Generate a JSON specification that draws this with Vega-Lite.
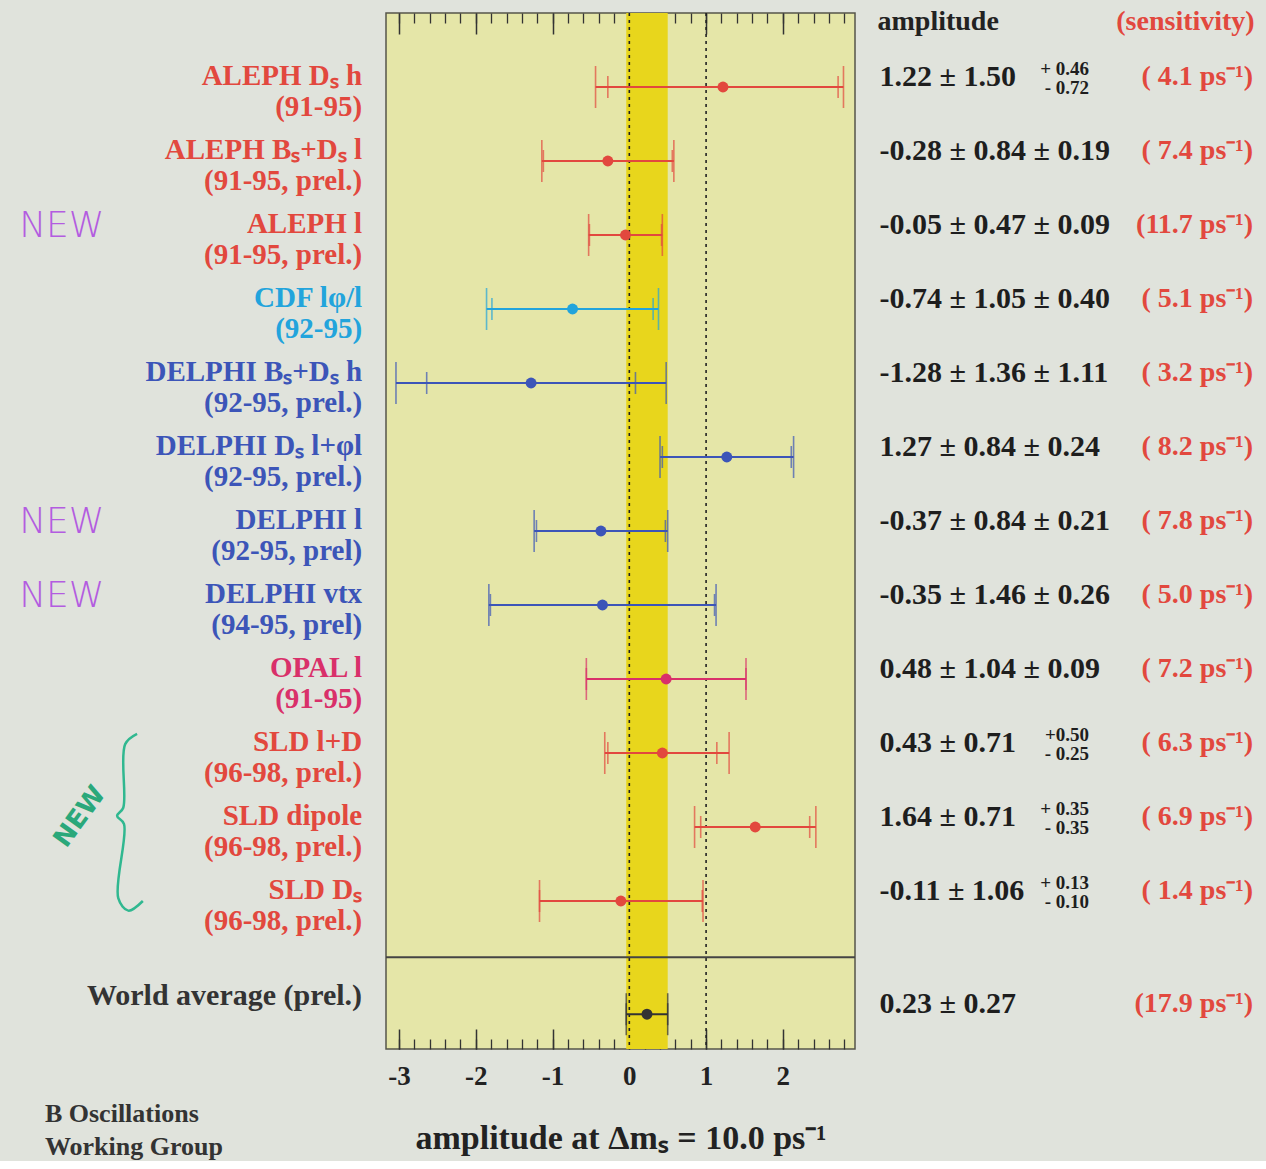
{
  "$schema": "https://vega.github.io/schema/vega-lite/v6.json",
  "background": "#e0e3dc",
  "padding": {"left": 0, "top": 7, "right": 0, "bottom": 0},
  "spacing": 0,
  "config": {"view": {"stroke": null}, "concat": {"spacing": 0}},
  "datasets": {
    "meas": [
      {"row": 1, "exp": "ALEPH", "label": "ALEPH Dₛ h\n(91-95)", "A": 1.22, "statLo": -0.28, "statHi": 2.72, "totLo": -0.44, "totHi": 2.79, "amp": "1.22 ± 1.50", "up": "+ 0.46", "dn": "- 0.72", "sens": "( 4.1 ps⁻¹)"},
      {"row": 2, "exp": "ALEPH", "label": "ALEPH Bₛ+Dₛ l\n(91-95, prel.)", "A": -0.28, "statLo": -1.12, "statHi": 0.56, "totLo": -1.14, "totHi": 0.58, "amp": "-0.28 ± 0.84 ± 0.19", "up": "", "dn": "", "sens": "( 7.4 ps⁻¹)"},
      {"row": 3, "exp": "ALEPH", "label": "ALEPH l\n(91-95, prel.)", "A": -0.05, "statLo": -0.52, "statHi": 0.42, "totLo": -0.53, "totHi": 0.43, "amp": "-0.05 ± 0.47 ± 0.09", "up": "", "dn": "", "sens": "(11.7 ps⁻¹)"},
      {"row": 4, "exp": "CDF", "label": "CDF lφ/l\n(92-95)", "A": -0.74, "statLo": -1.79, "statHi": 0.31, "totLo": -1.86, "totHi": 0.38, "amp": "-0.74 ± 1.05 ± 0.40", "up": "", "dn": "", "sens": "( 5.1 ps⁻¹)"},
      {"row": 5, "exp": "DELPHI", "label": "DELPHI Bₛ+Dₛ h\n(92-95, prel.)", "A": -1.28, "statLo": -2.64, "statHi": 0.08, "totLo": -3.04, "totHi": 0.48, "amp": "-1.28 ± 1.36 ± 1.11", "up": "", "dn": "", "sens": "( 3.2 ps⁻¹)"},
      {"row": 6, "exp": "DELPHI", "label": "DELPHI Dₛ l+φl\n(92-95, prel.)", "A": 1.27, "statLo": 0.43, "statHi": 2.11, "totLo": 0.40, "totHi": 2.14, "amp": "1.27 ± 0.84 ± 0.24", "up": "", "dn": "", "sens": "( 8.2 ps⁻¹)"},
      {"row": 7, "exp": "DELPHI", "label": "DELPHI l\n(92-95, prel)", "A": -0.37, "statLo": -1.21, "statHi": 0.47, "totLo": -1.24, "totHi": 0.50, "amp": "-0.37 ± 0.84 ± 0.21", "up": "", "dn": "", "sens": "( 7.8 ps⁻¹)"},
      {"row": 8, "exp": "DELPHI", "label": "DELPHI vtx\n(94-95, prel)", "A": -0.35, "statLo": -1.81, "statHi": 1.11, "totLo": -1.83, "totHi": 1.13, "amp": "-0.35 ± 1.46 ± 0.26", "up": "", "dn": "", "sens": "( 5.0 ps⁻¹)"},
      {"row": 9, "exp": "OPAL", "label": "OPAL l\n(91-95)", "A": 0.48, "statLo": -0.56, "statHi": 1.52, "totLo": -0.56, "totHi": 1.52, "amp": "0.48 ± 1.04 ± 0.09", "up": "", "dn": "", "sens": "( 7.2 ps⁻¹)"},
      {"row": 10, "exp": "SLD", "label": "SLD l+D\n(96-98, prel.)", "A": 0.43, "statLo": -0.28, "statHi": 1.14, "totLo": -0.32, "totHi": 1.30, "amp": "0.43 ± 0.71", "up": "+0.50", "dn": "- 0.25", "sens": "( 6.3 ps⁻¹)"},
      {"row": 11, "exp": "SLD", "label": "SLD dipole\n(96-98, prel.)", "A": 1.64, "statLo": 0.93, "statHi": 2.35, "totLo": 0.85, "totHi": 2.43, "amp": "1.64 ± 0.71", "up": "+ 0.35", "dn": "- 0.35", "sens": "( 6.9 ps⁻¹)"},
      {"row": 12, "exp": "SLD", "label": "SLD Dₛ\n(96-98, prel.)", "A": -0.11, "statLo": -1.17, "statHi": 0.95, "totLo": -1.17, "totHi": 0.96, "amp": "-0.11 ± 1.06", "up": "+ 0.13", "dn": "- 0.10", "sens": "( 1.4 ps⁻¹)"},
      {"row": 13.53, "exp": "World", "label": "World average (prel.)", "A": 0.23, "statLo": -0.04, "statHi": 0.50, "totLo": -0.04, "totHi": 0.50, "amp": "0.23 ± 0.27", "up": "", "dn": "", "sens": "(17.9 ps⁻¹)"}
    ]
  },
  "hconcat": [
    {
      "width": 384,
      "height": 1036,
      "layer": [
        {
          "data": {"name": "meas"},
          "transform": [{"filter": "datum.exp != 'World'"}],
          "mark": {"type": "text", "align": "right", "baseline": "middle", "lineBreak": "\n", "lineHeight": 31, "font": "Liberation Serif", "fontWeight": "bold", "fontSize": 29, "dy": -11},
          "encoding": {
            "x": {"datum": 0.943, "type": "quantitative", "scale": {"domain": [0, 1], "nice": false, "zero": false}, "axis": null},
            "y": {"field": "row", "type": "quantitative", "scale": {"domain": [0, 14], "reverse": true, "nice": false, "zero": false}, "axis": null},
            "text": {"field": "label"},
            "color": {"field": "exp", "type": "nominal", "scale": {"domain": ["ALEPH", "CDF", "DELPHI", "OPAL", "SLD", "World"], "range": ["#e2483e", "#22a4dc", "#3c55b8", "#d9306a", "#e2483e", "#333333"]}, "legend": null}
          }
        },
        {
          "data": {"name": "meas"},
          "transform": [{"filter": "datum.exp == 'World'"}],
          "mark": {"type": "text", "align": "right", "baseline": "middle", "font": "Liberation Serif", "fontWeight": "bold", "fontSize": 30, "dy": -18, "color": "#333333"},
          "encoding": {
            "x": {"datum": 0.943, "type": "quantitative", "scale": {"domain": [0, 1], "nice": false, "zero": false}, "axis": null},
            "y": {"field": "row", "type": "quantitative", "scale": {"domain": [0, 14], "reverse": true, "nice": false, "zero": false}, "axis": null},
            "text": {"field": "label"}
          }
        },
        {
          "data": {"values": [{"row": 3, "note": "NEW"}, {"row": 7, "note": "NEW"}, {"row": 8, "note": "NEW"}]},
          "mark": {"type": "text", "align": "center", "baseline": "middle", "font": "DejaVu Sans", "fontWeight": 200, "fontSize": 36, "dy": -9, "color": "#b35ce0"},
          "encoding": {
            "x": {"datum": 0.161, "type": "quantitative", "scale": {"domain": [0, 1], "nice": false, "zero": false}, "axis": null},
            "y": {"field": "row", "type": "quantitative", "scale": {"domain": [0, 14], "reverse": true, "nice": false, "zero": false}, "axis": null},
            "text": {"field": "note"}
          }
        },
        {
          "data": {"values": [{"row": 10.86, "note": "NEW"}]},
          "mark": {"type": "text", "align": "center", "baseline": "middle", "font": "DejaVu Sans", "fontWeight": "bold", "fontSize": 26, "angle": 306, "color": "#2aa87a"},
          "encoding": {
            "x": {"datum": 0.208, "type": "quantitative", "scale": {"domain": [0, 1], "nice": false, "zero": false}, "axis": null},
            "y": {"field": "row", "type": "quantitative", "scale": {"domain": [0, 14], "reverse": true, "nice": false, "zero": false}, "axis": null},
            "text": {"field": "note"}
          }
        },
        {
          "data": {"values": [
            {"i": 1, "fx": 0.357, "row": 9.74},
            {"i": 2, "fx": 0.326, "row": 9.88},
            {"i": 3, "fx": 0.321, "row": 10.74},
            {"i": 4, "fx": 0.305, "row": 10.85},
            {"i": 5, "fx": 0.323, "row": 10.96},
            {"i": 6, "fx": 0.308, "row": 11.96},
            {"i": 7, "fx": 0.334, "row": 12.13},
            {"i": 8, "fx": 0.372, "row": 12.0}
          ]},
          "mark": {"type": "line", "interpolate": "catmull-rom", "color": "#30b890", "strokeWidth": 2.5},
          "encoding": {
            "x": {"field": "fx", "type": "quantitative", "scale": {"domain": [0, 1], "nice": false, "zero": false}, "axis": null},
            "y": {"field": "row", "type": "quantitative", "scale": {"domain": [0, 14], "reverse": true, "nice": false, "zero": false}, "axis": null},
            "order": {"field": "i"}
          }
        },
        {
          "data": {"values": [{"row": 14.88, "note": "B Oscillations\nWorking Group"}]},
          "mark": {"type": "text", "align": "left", "baseline": "middle", "lineBreak": "\n", "lineHeight": 33, "font": "Liberation Serif", "fontWeight": "bold", "fontSize": 26, "color": "#333333"},
          "encoding": {
            "x": {"datum": 0.117, "type": "quantitative", "scale": {"domain": [0, 1], "nice": false, "zero": false}, "axis": null},
            "y": {"field": "row", "type": "quantitative", "scale": {"domain": [0, 14], "reverse": true, "nice": false, "zero": false}, "axis": null},
            "text": {"field": "note"}
          }
        }
      ]
    },
    {
      "width": 469,
      "height": 1036,
      "view": {"fill": "#e5e6a8", "stroke": "#55554a", "strokeWidth": 1.5},
      "resolve": {"scale": {"x": "independent"}},
      "layer": [
        {
          "data": {"values": [{}]},
          "mark": {"type": "rect", "color": "#e8d61c"},
          "encoding": {
            "x": {"datum": -0.04, "type": "quantitative", "scale": {"domain": [-3.17, 2.94], "nice": false, "zero": false},
              "axis": {"orient": "bottom", "values": [-3, -2, -1, 0, 1, 2], "labelExpr": "'' + datum.value", "ticks": false, "domain": false, "grid": false, "labelFlush": false, "labelFont": "Liberation Serif", "labelFontWeight": "bold", "labelFontSize": 27, "labelColor": "#222222", "labelPadding": 14, "title": "amplitude at Δmₛ = 10.0 ps⁻¹", "titleFont": "Liberation Serif", "titleFontWeight": "bold", "titleFontSize": 34, "titleColor": "#222222", "titlePadding": 32}},
            "x2": {"datum": 0.50}
          }
        },
        {
          "data": {"values": [{"v": 0}, {"v": 1}]},
          "mark": {"type": "rule", "color": "#222222", "strokeWidth": 1.6, "strokeDash": [3, 4]},
          "encoding": {
            "x": {"field": "v", "type": "quantitative", "scale": {"domain": [-3.17, 2.94], "nice": false, "zero": false},
              "axis": {"orient": "bottom", "values": [-3, -2, -1, 0, 1, 2], "tickSize": -20, "tickWidth": 1.5, "tickColor": "#333333", "labels": false, "domain": false, "grid": false, "title": null}}
          }
        },
        {
          "data": {"values": [{}]},
          "mark": {"type": "rule", "color": "#444444", "strokeWidth": 2},
          "encoding": {
            "y": {"datum": 12.76, "type": "quantitative", "scale": {"domain": [0, 14], "reverse": true, "nice": false, "zero": false}, "axis": null}
          }
        },
        {
          "data": {"name": "meas"},
          "mark": {"type": "rule", "strokeWidth": 2},
          "encoding": {
            "x": {"field": "totLo", "type": "quantitative", "scale": {"domain": [-3.17, 2.94], "nice": false, "zero": false},
              "axis": {"orient": "bottom", "values": [-3, -2.8, -2.6, -2.4, -2.2, -2, -1.8, -1.6, -1.4, -1.2, -1, -0.8, -0.6, -0.4, -0.2, 0, 0.2, 0.4, 0.6, 0.8, 1, 1.2, 1.4, 1.6, 1.8, 2, 2.2, 2.4, 2.6, 2.8], "tickSize": -10, "tickWidth": 1.3, "tickColor": "#333333", "labels": false, "domain": false, "grid": false, "title": null}},
            "x2": {"field": "totHi"},
            "y": {"field": "row", "type": "quantitative", "scale": {"domain": [0, 14], "reverse": true, "nice": false, "zero": false}, "axis": null},
            "color": {"field": "exp", "type": "nominal", "scale": {"domain": ["ALEPH", "CDF", "DELPHI", "OPAL", "SLD", "World"], "range": ["#e2483e", "#22a4dc", "#3c55b8", "#d9306a", "#e2483e", "#2a2a3a"]}, "legend": null}
          }
        },
        {
          "data": {"name": "meas"},
          "mark": {"type": "tick", "orient": "vertical", "size": 42, "thickness": 1.6},
          "encoding": {
            "x": {"field": "totLo", "type": "quantitative", "scale": {"domain": [-3.17, 2.94], "nice": false, "zero": false},
              "axis": {"orient": "top", "values": [-3, -2, -1, 0, 1, 2], "tickSize": -21, "tickWidth": 1.5, "tickColor": "#333333", "labels": false, "domain": false, "grid": false, "title": null}},
            "y": {"field": "row", "type": "quantitative", "scale": {"domain": [0, 14], "reverse": true, "nice": false, "zero": false}, "axis": null},
            "color": {"field": "exp", "type": "nominal", "scale": {"domain": ["ALEPH", "CDF", "DELPHI", "OPAL", "SLD", "World"], "range": ["#e2483e", "#22a4dc", "#3c55b8", "#d9306a", "#e2483e", "#2a2a3a"]}, "legend": null}
          }
        },
        {
          "data": {"name": "meas"},
          "mark": {"type": "tick", "orient": "vertical", "size": 42, "thickness": 1.6},
          "encoding": {
            "x": {"field": "totHi", "type": "quantitative", "scale": {"domain": [-3.17, 2.94], "nice": false, "zero": false},
              "axis": {"orient": "top", "values": [-3, -2.8, -2.6, -2.4, -2.2, -2, -1.8, -1.6, -1.4, -1.2, -1, -0.8, -0.6, -0.4, -0.2, 0, 0.2, 0.4, 0.6, 0.8, 1, 1.2, 1.4, 1.6, 1.8, 2, 2.2, 2.4, 2.6, 2.8], "tickSize": -10, "tickWidth": 1.3, "tickColor": "#333333", "labels": false, "domain": false, "grid": false, "title": null}},
            "y": {"field": "row", "type": "quantitative", "scale": {"domain": [0, 14], "reverse": true, "nice": false, "zero": false}, "axis": null},
            "color": {"field": "exp", "type": "nominal", "scale": {"domain": ["ALEPH", "CDF", "DELPHI", "OPAL", "SLD", "World"], "range": ["#e2483e", "#22a4dc", "#3c55b8", "#d9306a", "#e2483e", "#2a2a3a"]}, "legend": null}
          }
        },
        {
          "data": {"name": "meas"},
          "mark": {"type": "tick", "orient": "vertical", "size": 22, "thickness": 1.6},
          "encoding": {
            "x": {"field": "statLo", "type": "quantitative", "scale": {"domain": [-3.17, 2.94], "nice": false, "zero": false}, "axis": null},
            "y": {"field": "row", "type": "quantitative", "scale": {"domain": [0, 14], "reverse": true, "nice": false, "zero": false}, "axis": null},
            "color": {"field": "exp", "type": "nominal", "scale": {"domain": ["ALEPH", "CDF", "DELPHI", "OPAL", "SLD", "World"], "range": ["#e2483e", "#22a4dc", "#3c55b8", "#d9306a", "#e2483e", "#2a2a3a"]}, "legend": null}
          }
        },
        {
          "data": {"name": "meas"},
          "mark": {"type": "tick", "orient": "vertical", "size": 22, "thickness": 1.6},
          "encoding": {
            "x": {"field": "statHi", "type": "quantitative", "scale": {"domain": [-3.17, 2.94], "nice": false, "zero": false}, "axis": null},
            "y": {"field": "row", "type": "quantitative", "scale": {"domain": [0, 14], "reverse": true, "nice": false, "zero": false}, "axis": null},
            "color": {"field": "exp", "type": "nominal", "scale": {"domain": ["ALEPH", "CDF", "DELPHI", "OPAL", "SLD", "World"], "range": ["#e2483e", "#22a4dc", "#3c55b8", "#d9306a", "#e2483e", "#2a2a3a"]}, "legend": null}
          }
        },
        {
          "data": {"name": "meas"},
          "mark": {"type": "circle", "size": 120, "opacity": 1},
          "encoding": {
            "x": {"field": "A", "type": "quantitative", "scale": {"domain": [-3.17, 2.94], "nice": false, "zero": false}, "axis": null},
            "y": {"field": "row", "type": "quantitative", "scale": {"domain": [0, 14], "reverse": true, "nice": false, "zero": false}, "axis": null},
            "color": {"field": "exp", "type": "nominal", "scale": {"domain": ["ALEPH", "CDF", "DELPHI", "OPAL", "SLD", "World"], "range": ["#e2483e", "#22a4dc", "#3c55b8", "#d9306a", "#e2483e", "#2a2a3a"]}, "legend": null}
          }
        }
      ]
    },
    {
      "width": 410,
      "height": 1036,
      "layer": [
        {
          "data": {"values": [{"row": 0.12, "t": "amplitude"}]},
          "mark": {"type": "text", "align": "left", "baseline": "middle", "font": "Liberation Serif", "fontWeight": "bold", "fontSize": 28, "color": "#222222"},
          "encoding": {
            "x": {"datum": 0.05, "type": "quantitative", "scale": {"domain": [0, 1], "nice": false, "zero": false}, "axis": null},
            "y": {"field": "row", "type": "quantitative", "scale": {"domain": [0, 14], "reverse": true, "nice": false, "zero": false}, "axis": null},
            "text": {"field": "t"}
          }
        },
        {
          "data": {"values": [{"row": 0.12, "t": "(sensitivity)"}]},
          "mark": {"type": "text", "align": "right", "baseline": "middle", "font": "Liberation Serif", "fontWeight": "bold", "fontSize": 28, "color": "#e2483e"},
          "encoding": {
            "x": {"datum": 0.97, "type": "quantitative", "scale": {"domain": [0, 1], "nice": false, "zero": false}, "axis": null},
            "y": {"field": "row", "type": "quantitative", "scale": {"domain": [0, 14], "reverse": true, "nice": false, "zero": false}, "axis": null},
            "text": {"field": "t"}
          }
        },
        {
          "data": {"name": "meas"},
          "mark": {"type": "text", "align": "left", "baseline": "middle", "font": "Liberation Serif", "fontWeight": "bold", "fontSize": 30, "dy": -10, "color": "#1e1e1e"},
          "encoding": {
            "x": {"datum": 0.055, "type": "quantitative", "scale": {"domain": [0, 1], "nice": false, "zero": false}, "axis": null},
            "y": {"field": "row", "type": "quantitative", "scale": {"domain": [0, 14], "reverse": true, "nice": false, "zero": false}, "axis": null},
            "text": {"field": "amp"}
          }
        },
        {
          "data": {"name": "meas"},
          "transform": [{"filter": "datum.up != ''"}],
          "mark": {"type": "text", "align": "right", "baseline": "middle", "font": "Liberation Serif", "fontWeight": "bold", "fontSize": 19, "dy": -18, "color": "#1e1e1e"},
          "encoding": {
            "x": {"datum": 0.566, "type": "quantitative", "scale": {"domain": [0, 1], "nice": false, "zero": false}, "axis": null},
            "y": {"field": "row", "type": "quantitative", "scale": {"domain": [0, 14], "reverse": true, "nice": false, "zero": false}, "axis": null},
            "text": {"field": "up"}
          }
        },
        {
          "data": {"name": "meas"},
          "transform": [{"filter": "datum.dn != ''"}],
          "mark": {"type": "text", "align": "right", "baseline": "middle", "font": "Liberation Serif", "fontWeight": "bold", "fontSize": 19, "dy": 1, "color": "#1e1e1e"},
          "encoding": {
            "x": {"datum": 0.566, "type": "quantitative", "scale": {"domain": [0, 1], "nice": false, "zero": false}, "axis": null},
            "y": {"field": "row", "type": "quantitative", "scale": {"domain": [0, 14], "reverse": true, "nice": false, "zero": false}, "axis": null},
            "text": {"field": "dn"}
          }
        },
        {
          "data": {"name": "meas"},
          "mark": {"type": "text", "align": "right", "baseline": "middle", "font": "Liberation Serif", "fontWeight": "bold", "fontSize": 28, "dy": -10, "color": "#e2483e"},
          "encoding": {
            "x": {"datum": 0.966, "type": "quantitative", "scale": {"domain": [0, 1], "nice": false, "zero": false}, "axis": null},
            "y": {"field": "row", "type": "quantitative", "scale": {"domain": [0, 14], "reverse": true, "nice": false, "zero": false}, "axis": null},
            "text": {"field": "sens"}
          }
        }
      ]
    }
  ]
}
